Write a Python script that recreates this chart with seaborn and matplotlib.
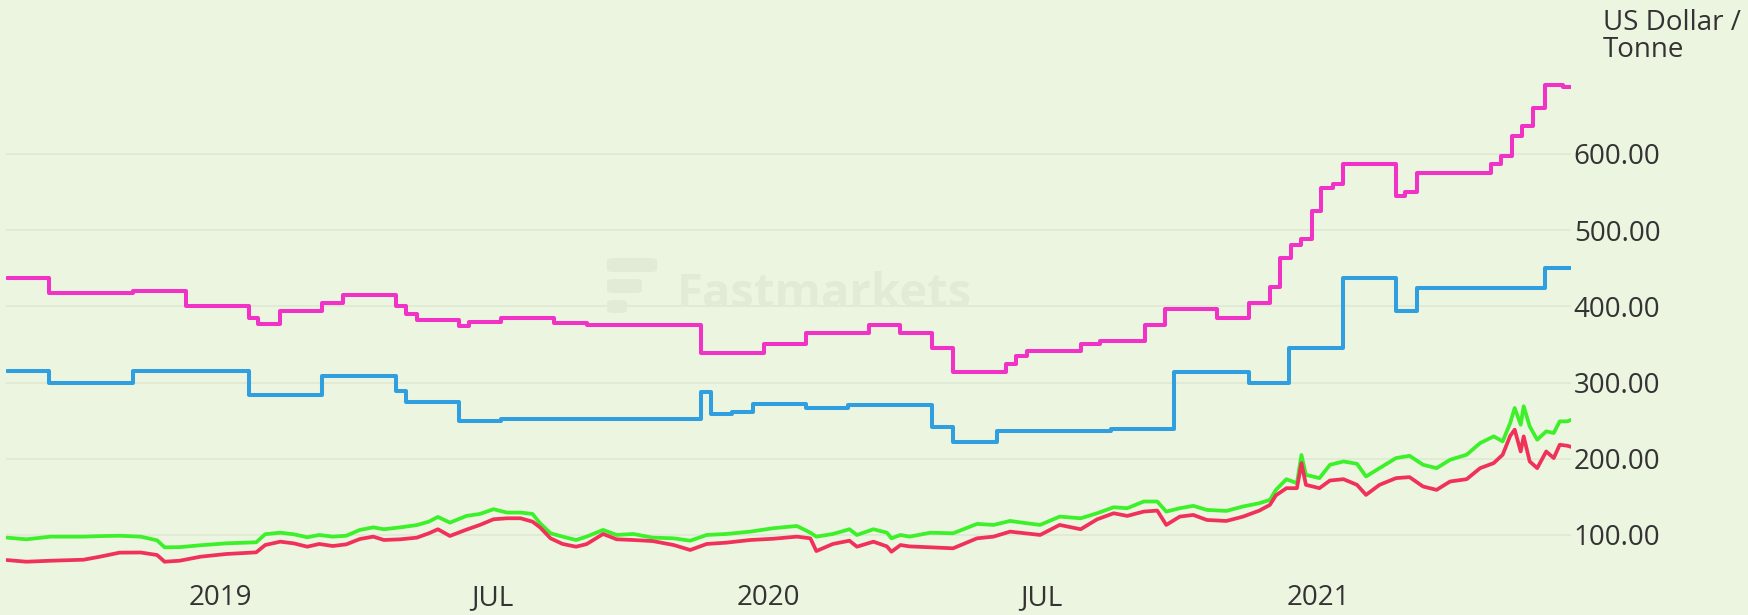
import numpy as np
import pandas as pd
import matplotlib
matplotlib.use("Agg")
import matplotlib.pyplot as plt
import seaborn as sns
from matplotlib.patches import FancyBboxPatch

# ---------------- data ----------------
mag_dates = ["2018-08-12", "2018-09-09", "2018-11-04", "2018-12-09", "2019-01-20", "2019-01-26",
             "2019-02-10", "2019-03-10", "2019-03-24", "2019-04-28", "2019-05-05", "2019-05-12",
             "2019-06-09", "2019-06-16", "2019-07-07", "2019-08-11", "2019-09-02", "2019-11-17",
             "2019-12-29", "2020-01-26", "2020-03-08", "2020-03-29", "2020-04-19", "2020-05-03",
             "2020-06-07", "2020-06-14", "2020-06-21", "2020-07-27", "2020-08-09", "2020-09-08",
             "2020-09-21", "2020-10-26", "2020-11-16", "2020-11-30", "2020-12-07", "2020-12-14",
             "2020-12-21", "2020-12-28", "2021-01-03", "2021-01-11", "2021-01-18", "2021-02-22",
             "2021-02-28", "2021-03-08", "2021-04-26", "2021-05-03", "2021-05-10", "2021-05-17",
             "2021-05-24", "2021-06-01", "2021-06-13", "2021-06-19"]
mag_vals = [437, 417, 420, 400, 385, 377,
            394, 405, 415, 400, 390, 382,
            374, 380, 385, 378, 375, 339,
            350, 365, 375, 365, 345, 314,
            325, 335, 342, 351, 355, 375,
            396, 385, 405, 425, 464, 480,
            489, 525, 555, 561, 587, 545,
            550, 575, 587, 598, 623, 637,
            660, 691, 688, 688]

blue_dates = ["2018-08-12", "2018-09-09", "2018-11-04", "2019-01-20", "2019-03-10", "2019-04-28",
              "2019-05-05", "2019-06-09", "2019-07-07", "2019-11-17", "2019-11-24", "2019-12-08",
              "2019-12-22", "2020-01-26", "2020-02-23", "2020-04-19", "2020-05-03", "2020-06-01",
              "2020-08-16", "2020-09-27", "2020-11-16", "2020-12-13", "2021-01-18", "2021-02-22",
              "2021-03-08", "2021-06-01", "2021-06-19"]
blue_vals = [315, 299, 315, 284, 309, 289,
             274, 249, 252, 287, 259, 262,
             272, 266, 271, 242, 222, 236,
             239, 314, 300, 345, 437, 394,
             424, 450, 450]

lo_dates = ["2018-08-12", "2018-08-25", "2018-09-10", "2018-10-02", "2018-10-13", "2018-10-26",
            "2018-11-09", "2018-11-20", "2018-11-25", "2018-12-05", "2018-12-19", "2019-01-05",
            "2019-01-25", "2019-01-31", "2019-02-10", "2019-02-19", "2019-02-28", "2019-03-08",
            "2019-03-17", "2019-03-26", "2019-04-04", "2019-04-13", "2019-04-20", "2019-05-01",
            "2019-05-12", "2019-05-20", "2019-05-26",
            "2019-06-03", "2019-06-14", "2019-06-23", "2019-07-02", "2019-07-11", "2019-07-20",
            "2019-07-28", "2019-08-02", "2019-08-09", "2019-08-17", "2019-08-26", "2019-09-02",
            "2019-09-13", "2019-09-22", "2019-10-03", "2019-10-16", "2019-10-30", "2019-11-10",
            "2019-11-21", "2019-12-04", "2019-12-20", "2020-01-04", "2020-01-20", "2020-01-29",
            "2020-02-02", "2020-02-13", "2020-02-24", "2020-02-29", "2020-03-11", "2020-03-20",
            "2020-03-23", "2020-03-29", "2020-04-04", "2020-04-18", "2020-05-03", "2020-05-19",
            "2020-05-30", "2020-06-10", "2020-06-21", "2020-06-30", "2020-07-13", "2020-07-27",
            "2020-08-07", "2020-08-18", "2020-08-27", "2020-09-07", "2020-09-16", "2020-09-22",
            "2020-10-01", "2020-10-10", "2020-10-19", "2020-11-01", "2020-11-12", "2020-11-23",
            "2020-11-30", "2020-12-04", "2020-12-11", "2020-12-18", "2020-12-21", "2020-12-24",
            "2021-01-02",
            "2021-01-09", "2021-01-18", "2021-01-27", "2021-02-02", "2021-02-11", "2021-02-22",
            "2021-03-03", "2021-03-12", "2021-03-21", "2021-03-30", "2021-04-10", "2021-04-19",
            "2021-04-28", "2021-05-04", "2021-05-09", "2021-05-12", "2021-05-16", "2021-05-18",
            "2021-05-22", "2021-05-27", "2021-06-02", "2021-06-07", "2021-06-11", "2021-06-16",
            "2021-06-19"]
green_vals = [96.5, 94.3, 97.8, 97.8, 98.5, 99,
              97.8, 93, 83.8, 84, 86.5, 89,
              90.4, 101, 103, 100.9, 97, 100,
              97.8, 99, 106.6, 110, 107.5, 110,
              113, 117.5, 123.7,
              116.2, 125, 127.6, 133.8, 129.4, 129.4,
              127.6, 115.4, 102.2, 97.8, 93.4, 97.8,
              106.6, 100, 101.3, 96.5, 95.6, 92.5,
              100, 101.3, 104.4, 108.8, 111.8, 103,
              97.8, 101.3, 107.5, 100, 107.5, 103,
              95.6, 100, 97.8, 103, 102.2, 114.5,
              113.2, 118.4, 115.4, 113.2, 124.1, 121.9,
              128.5, 136.4, 135.1, 143.9, 143.9, 130.7,
              135.1, 138.2, 132.9, 131.6, 137.3, 141.7,
              146, 159.2, 173.2, 168, 205, 178.9,
              174.6,
              192.1, 196.5, 193.4, 176.8, 187.7, 200.9,
              203.9, 192.1, 187.7, 198.7, 205.3, 220.6,
              229.4, 222.8, 246.9, 266.7, 244.7, 268.9,
              242.5, 225, 236, 233.8, 249.1, 249.1,
              251.3]
red_vals = [67.1, 64.9, 66.2, 67.5, 71.5, 76.8,
            77, 73.7, 64.9, 66.2, 71.5, 75,
            77.2, 86.8, 91.2, 89, 84.6, 88.2,
            85.5, 87.7, 94.7, 97.8, 93.4, 94.3,
            96.5, 102.2, 107.5,
            98.7, 107, 113.2, 120.6, 121.9, 121.9,
            117.5, 110, 95.6, 88.2, 84.6, 88,
            101.3, 94.3, 93.4, 92, 86.8, 80.3,
            88.2, 89.9, 93.4, 95, 97.8, 95.6,
            78.9, 88.2, 92.5, 84.6, 91.2, 85,
            78, 86.8, 85, 83.8, 82.5, 95.6,
            97.8, 104.4, 102, 100, 113.2, 107.5,
            120.6, 128.5, 125, 130.7, 132, 113.2,
            124.1, 126.3, 119.7, 118.4, 124, 132,
            139.5, 152, 161.4, 161.4, 194.3, 165.8,
            161.4,
            171.5, 173.2, 165.8, 152.6, 165.8, 174.6,
            175.9, 163.6, 159.2, 170.2, 173.2, 187.7,
            194.3, 205.3, 230, 238.2, 209.6, 229.4,
            196.5, 187.7, 209.6, 200.9, 218.4, 217.1,
            215.4]

tick_dates = ["2019-01-01", "2019-07-01", "2020-01-01", "2020-07-01", "2021-01-01"]
tick_labels = ["2019", "JUL", "2020", "JUL", "2021"]
y_ticks = [100, 200, 300, 400, 500, 600]
unit_lines = ["US Dollar /", "Tonne"]
watermark = "Fastmarkets"

# ---------------- styling ----------------
BG = "#ecf5e0"
GRID = "#dfe8d3"
TXT = "#333333"
C_MAG = "#f032c6"
C_BLUE = "#2f9fe0"
C_GREEN = "#3cf02a"
C_RED = "#f0325a"

sns.set_style("white")
plt.rcParams["font.family"] = ["Open Sans", "DejaVu Sans"]

W, H = 1749, 615
fig = plt.figure(figsize=(W / 100, H / 100), dpi=100, facecolor=BG)
ax = fig.add_axes([6 / W, (H - 572) / H, (1571 - 6) / W, (572 - 40) / H])
ax.set_facecolor(BG)


def px(x, y):
    return x / W, 1 - y / H


# watermark (behind everything)
wm_col = "#e2ebd6"
for (x0, y0, x1, y1) in [(607, 258, 657, 272), (607, 279, 642, 293), (607, 300, 627, 313)]:
    fx, fy = px(x0, y1)
    fw, fh = (x1 - x0) / W, (y1 - y0) / H
    fig.patches.append(FancyBboxPatch((fx, fy), fw, fh, boxstyle="round,pad=0,rounding_size=0.004",
                                      transform=fig.transFigure, facecolor=wm_col, edgecolor="none",
                                      zorder=0))
fig.text(*px(677, 307), watermark, fontsize=34, fontweight="bold", color=wm_col,
         ha="left", va="baseline", zorder=0.5, family=["Open Sans", "DejaVu Sans"])

ax.patch.set_alpha(0)

mag = pd.DataFrame({"date": pd.to_datetime(mag_dates), "value": mag_vals})
blue = pd.DataFrame({"date": pd.to_datetime(blue_dates), "value": blue_vals})
low = pd.DataFrame({"date": pd.to_datetime(lo_dates), "green": green_vals, "red": red_vals})

sns.lineplot(data=mag, x="date", y="value", ax=ax, color=C_MAG, lw=2.9,
             drawstyle="steps-post", estimator=None, sort=False, zorder=3)
sns.lineplot(data=blue, x="date", y="value", ax=ax, color=C_BLUE, lw=2.9,
             drawstyle="steps-post", estimator=None, sort=False, zorder=3)
sns.lineplot(data=low, x="date", y="green", ax=ax, color=C_GREEN, lw=2.7,
             estimator=None, sort=False, zorder=3)
sns.lineplot(data=low, x="date", y="red", ax=ax, color=C_RED, lw=2.7,
             estimator=None, sort=False, zorder=4)

t0 = pd.Timestamp("2019-01-01")
ax.set_xlim(t0 + pd.Timedelta(days=-142.6), t0 + pd.Timedelta(days=899.5))
ax.set_ylim(51.4, 749.6)

ax.set_xticks(pd.to_datetime(tick_dates))
ax.set_xticklabels(tick_labels)
ax.set_yticks(y_ticks)
ax.set_yticklabels([f"{v:.2f}" for v in y_ticks])
ax.yaxis.tick_right()
ax.tick_params(axis="both", length=0, labelsize=20, colors=TXT)
ax.tick_params(axis="x", pad=8.5)
ax.tick_params(axis="y", pad=2)
ax.grid(axis="y", color=GRID, lw=1.2)
ax.grid(axis="x", visible=False)
ax.set_axisbelow(True)
for s in ax.spines.values():
    s.set_visible(False)
ax.set_xlabel("")
ax.set_ylabel("")

fig.text(*px(1603, 9), unit_lines[0], fontsize=20, color=TXT, ha="left", va="top")
fig.text(*px(1603, 36), unit_lines[1], fontsize=20, color=TXT, ha="left", va="top")

fig.savefig("out.png", dpi=100, facecolor=BG)
